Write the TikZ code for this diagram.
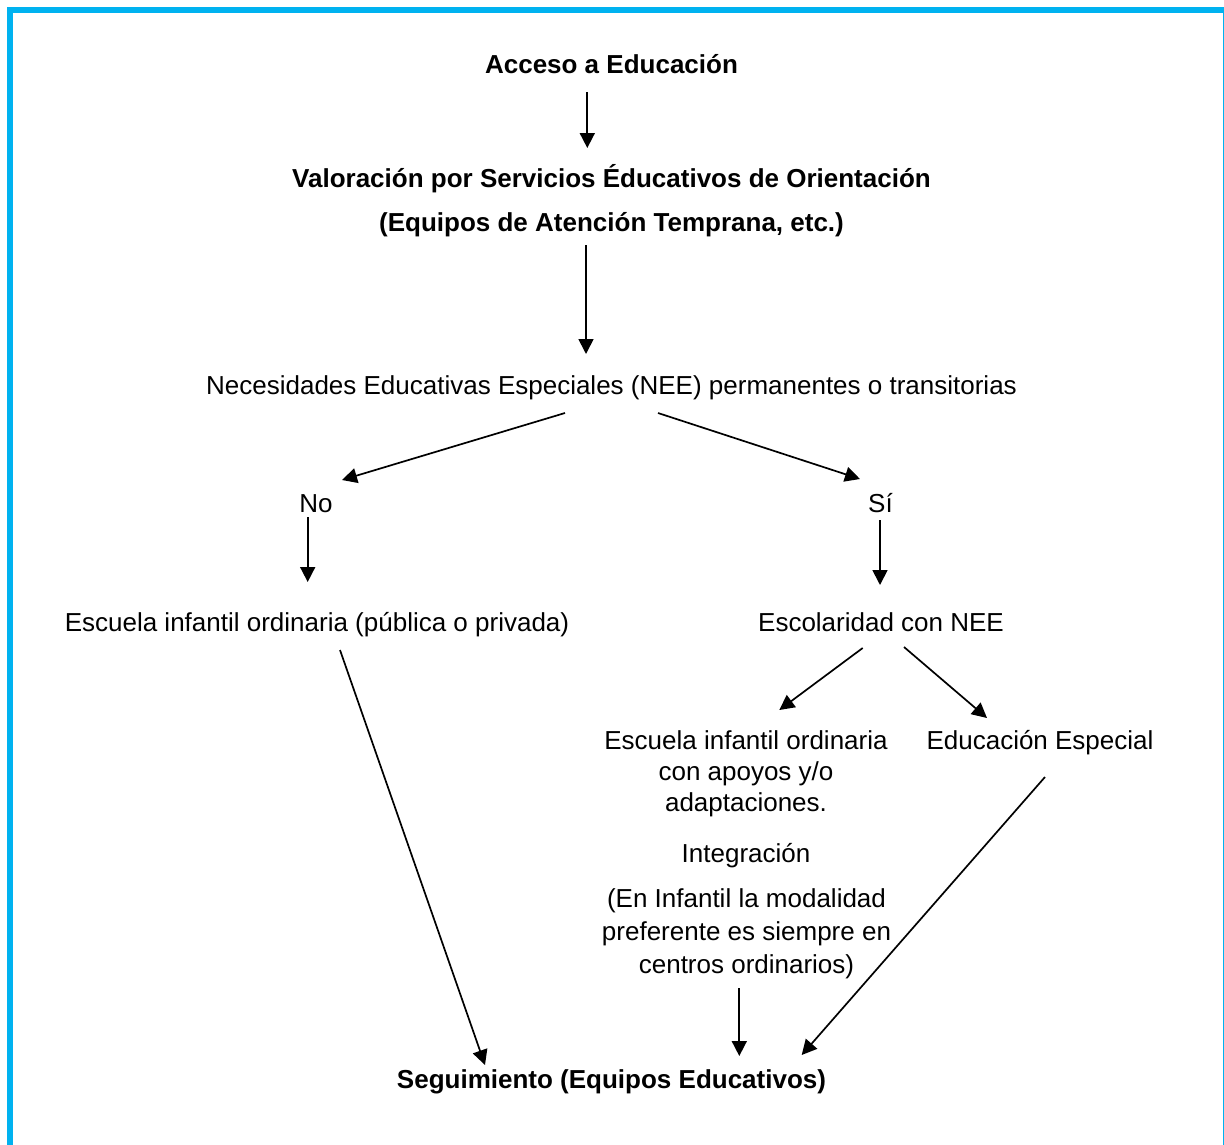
\documentclass[tikz,border=0pt]{standalone}
\usepackage{fontspec}
\setmainfont{Liberation Sans}
\usetikzlibrary{arrows.meta}
\definecolor{frameblue}{RGB}{0,178,240}
\tikzset{
  txt/.style={inner sep=0pt, anchor=base, font=\fontsize{26}{31}\selectfont},
  ttl/.style={inner sep=0pt, anchor=base, font=\fontsize{26}{31}\selectfont\bfseries},
  arr/.style={-{Triangle[length=15pt,width=15pt]}, line width=1.7pt},
  framebox/.style={draw=frameblue, line width=6pt}
}
\begin{document}
\begin{tikzpicture}[x=1pt,y=-1pt]
\useasboundingbox (0,0) rectangle (1224,1144);
\clip (0,0) rectangle (1224,1144);
\draw[framebox] (10.3,9.7) rectangle (1225.5,1152);

% nodes
\node[ttl] (acceso) at (611.5,73) {Acceso a Educación};
\node[ttl] (valor) at (611.5,187) {Valoración por Servicios Éducativos de Orientación};
\node[ttl] (equipos) at (611.5,231) {(Equipos de Atención Temprana, etc.)};
\node[txt] (nee) at (611.5,394) {Necesidades Educativas Especiales (NEE) permanentes o transitorias};
\node[txt] (no) at (316,512) {No};
\node[txt] (si) at (880.5,512) {Sí};
\node[txt] (escord) at (317,631) {Escuela infantil ordinaria (pública o privada)};
\node[txt] (escnee) at (881,631) {Escolaridad con NEE};
\node[txt, align=center] (apoyos) at (746,811) {Escuela infantil ordinaria\\con apoyos y/o\\adaptaciones.};
\node[txt] (integ) at (746,862) {Integración};
\node[txt, align=center, font=\fontsize{26}{33}\selectfont] (modal) at (746.5,973) {(En Infantil la modalidad\\preferente es siempre en\\centros ordinarios)};
\node[txt] (edesp) at (1040,749) {Educación Especial};
\node[ttl] (seg) at (611.5,1088) {Seguimiento (Equipos Educativos)};

% connector end points
\coordinate (acceso-out) at (587.3,92);
\coordinate (valor-in) at (587.3,148);
\coordinate (equipos-out) at (586,245);
\coordinate (nee-in) at (586,354);
\coordinate (nee-outl) at (565,413);
\coordinate (no-in) at (342,480);
\coordinate (nee-outr) at (658,413);
\coordinate (si-in) at (860,479);
\coordinate (no-out) at (307.7,517);
\coordinate (escord-in) at (307.7,582);
\coordinate (si-out) at (880,520);
\coordinate (escnee-in) at (880,585);
\coordinate (escnee-outl) at (862.7,648);
\coordinate (apoyos-in) at (779.3,710);
\coordinate (escnee-outr) at (904,647);
\coordinate (edesp-in) at (987,718);
\coordinate (escord-out) at (340,650);
\coordinate (seg-inl) at (485,1065);
\coordinate (modal-out) at (739.3,988);
\coordinate (seg-inm) at (739.3,1056);
\coordinate (edesp-out) at (1045,777);
\coordinate (seg-inr) at (801.7,1055);

% connectors
\draw[arr] (acceso-out) -- (valor-in);
\draw[arr] (equipos-out) -- (nee-in);
\draw[arr] (nee-outl) -- (no-in);
\draw[arr] (nee-outr) -- (si-in);
\draw[arr] (no-out) -- (escord-in);
\draw[arr] (si-out) -- (escnee-in);
\draw[arr] (escnee-outl) -- (apoyos-in);
\draw[arr] (escnee-outr) -- (edesp-in);
\draw[arr] (escord-out) -- (seg-inl);
\draw[arr] (modal-out) -- (seg-inm);
\draw[arr] (edesp-out) -- (seg-inr);
\end{tikzpicture}
\end{document}
